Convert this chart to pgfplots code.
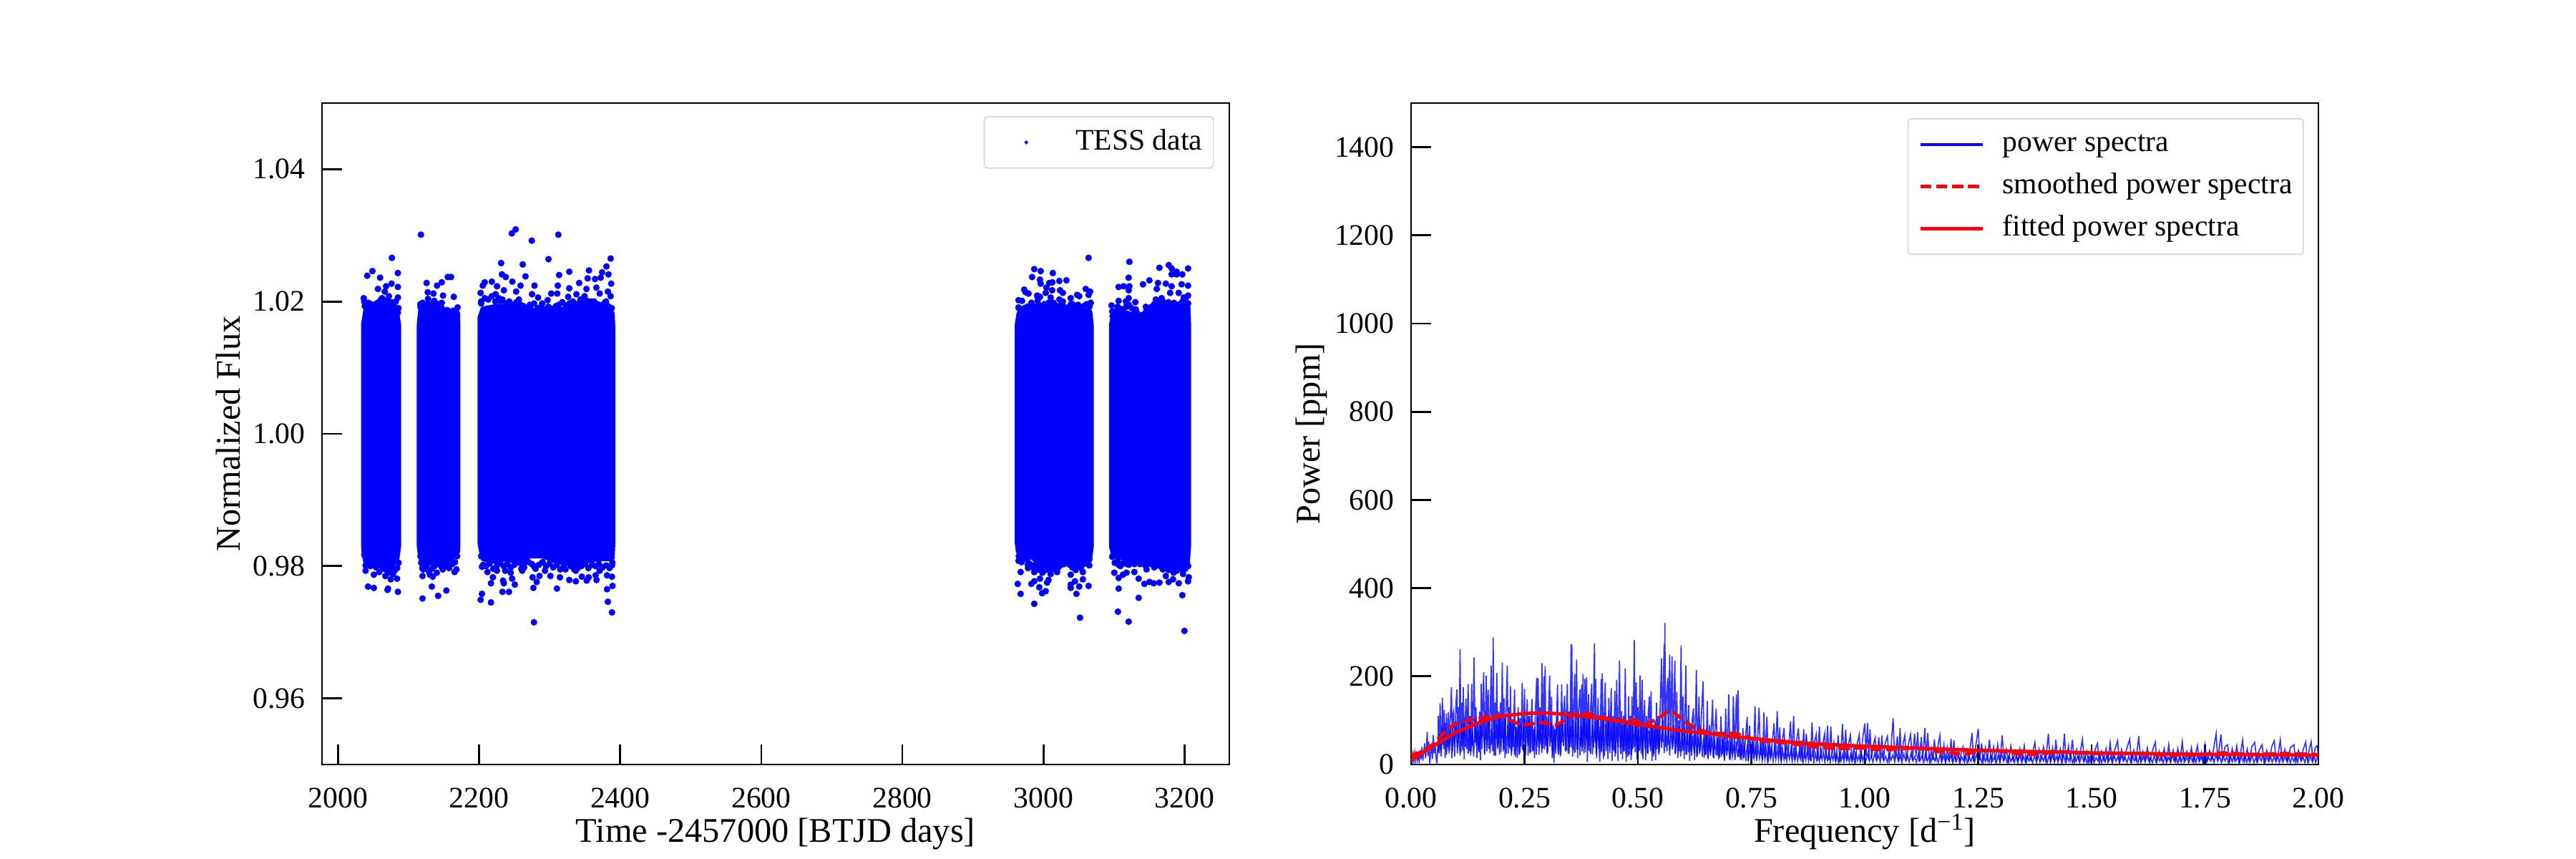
\documentclass[border=0pt]{standalone}
\usepackage{fontspec}
\setmainfont{Liberation Serif}
\usepackage{pgfplots}
\pgfplotsset{compat=1.18}

\pgfplotsset{
  panel/.style={
    scale only axis,
    width=6.34in,
    height=4.62in,
    tick align=inside,
    xtick pos=lower,
    ytick pos=left,
    minor tick num=0,
    major tick length=10bp,
    tick style={black, line width=1bp},
    axis line style={line width=0.5bp},
    tick label style={font=\fontsize{15bp}{18bp}\selectfont, /pgf/number format/assume math mode=true},
    xticklabel style={yshift=-8.3bp},
    yticklabel style={xshift=-5bp},
    label style={font=\fontsize{17.4bp}{20bp}\selectfont},
    legend cell align=left,
    legend style={
      font=\fontsize{15bp}{18bp}\selectfont,
      draw=black!17, rounded corners=1.5bp, line width=0.6bp,
      fill=white, fill opacity=0.8, text opacity=1,
      inner xsep=5.5bp, inner ysep=6bp,
      column sep=9.2bp, row sep=7.5bp,
      nodes={inner sep=0pt, text height=10.5bp, text depth=3.2bp},
    },
    legend image code/.code={\draw[##1] (0bp,0bp) -- (31.3bp,0bp);},
  },
}

\begin{document}
\begin{tikzpicture}
\useasboundingbox (-2.25in,-0.66in) rectangle (15.75in,5.34in);

\begin{axis}[panel,
  xmin=1977.4, xmax=3263.4, ymin=0.95, ymax=1.05,
  xtick={2000,2200,...,3200},
  ytick={0.96,0.98,1.00,1.02,1.04},
  x tick label style={/pgf/number format/1000 sep={}},
  y tick label style={/pgf/number format/fixed, /pgf/number format/fixed zerofill, /pgf/number format/precision=2},
  xlabel={Time -2457000 [BTJD days]},
  ylabel={Normalized Flux},
  xlabel style={at={(axis description cs:0.5,-0.1175)}, anchor=base},
  ylabel style={at={(axis description cs:-0.090,0.5)}, anchor=base},
  legend style={at={(0.983,0.98)}, anchor=north east},
  legend image code/.code={\path[draw=none, fill=none] (0bp,0bp) -- (31.3bp,0bp); \draw[#1, draw=none] plot coordinates {(15.65bp,0bp)};},
]
\addlegendimage{only marks, mark=*, mark size=0.6bp, blue, mark options={draw=none, fill=blue}}
\addlegendentry{TESS data}

% the solid part of each block, far too many points to plot one by one
\addplot[blue, fill=blue, line width=3bp, line join=round, forget plot] coordinates {
  (2037,1.0165)(2040,1.0186)(2050,1.0189)(2060,1.0192)(2070,1.0194)(2082,1.0187)(2085.3,1.0165)
  (2085.3,0.9830)(2083,0.9812)(2074,0.9798)(2068,0.9805)(2058,0.9809)(2048,0.9803)(2039,0.9812)(2037,0.9830)
} --cycle;
\addplot[blue, fill=blue, line width=3bp, line join=round, forget plot] coordinates {
  (2116,1.0165)(2118,1.0187)(2130,1.0192)(2142,1.0190)(2155,1.0182)(2169,1.0182)(2169.3,1.0160)
  (2169.3,0.9835)(2169,0.9822)(2160,0.9812)(2150,0.9808)(2142,0.9816)(2130,0.9805)(2118,0.9812)(2116,0.9830)
} --cycle;
\addplot[blue, fill=blue, line width=3bp, line join=round, forget plot] coordinates {
  (2202,1.0175)(2206,1.0188)(2225,1.0192)(2245,1.0192)(2262,1.0189)(2280,1.0185)(2300,1.0184)(2320,1.0188)(2340,1.0193)(2360,1.0194)(2380,1.0192)(2388,1.0182)(2389,1.0160)
  (2389,0.9835)(2388,0.9812)(2370,0.9812)(2350,0.9808)(2335,0.9803)(2310,0.9808)(2290,0.9816)(2270,0.9816)(2262,0.9803)(2240,0.9812)(2220,0.9808)(2206,0.9812)(2202,0.9835)
} --cycle;
\addplot[blue, fill=blue, line width=3bp, line join=round, forget plot] coordinates {
  (2963.5,1.0165)(2966,1.0182)(2985,1.0184)(3005,1.0188)(3025,1.0189)(3045,1.0187)(3065,1.0184)(3067,1.0165)
  (3067,0.9830)(3065,0.9812)(3050,0.9803)(3035,0.9809)(3020,0.9798)(3005,0.9800)(2990,0.9809)(2975,0.9822)(2965,0.9822)(2963.5,0.9835)
} --cycle;
\addplot[blue, fill=blue, line width=3bp, line join=round, forget plot] coordinates {
  (3097,1.0165)(3100,1.0180)(3112,1.0184)(3128,1.0178)(3140,1.0174)(3155,1.0187)(3170,1.0192)(3190,1.0194)(3204,1.0192)(3205,1.0165)
  (3205,0.9830)(3203,0.9803)(3190,0.9798)(3175,0.9800)(3160,0.9803)(3145,0.9808)(3130,0.9805)(3115,0.9812)(3100,0.9818)(3097,0.9830)
} --cycle;

% points that stand clear of the blocks
\addplot[only marks, mark=*, mark size=1.45bp, blue, mark options={draw=none}, forget plot] coordinates {
  (2076.5,1.0266)(2048.9,1.0246)(2041.5,1.0239)(2059.8,1.0236)(2085,1.0243)(2085,1.0222)(2076,1.0227)(2068.3,1.0223)(2056.7,1.0219)
  (2066.4,1.0215)(2085,1.0206)(2036.5,1.0205)(2037.3,1.0200)(2062.5,1.0205)(2072.2,1.0208)(2043.1,1.0198)(2054.7,1.0197)(2085.8,1.0190)
  (2117.6,1.0301)(2125.7,1.0228)(2147.1,1.0229)(2155.6,1.0237)(2160.3,1.0237)(2140.5,1.0224)(2127.3,1.0214)(2135.4,1.0212)(2149,1.0209)
  (2164.2,1.0207)(2127.7,1.0204)(2136.6,1.0201)(2116.8,1.0196)(2147.1,1.0198)(2169.6,1.0191)(2149.8,1.0187)(2139.3,1.0186)
  (2251.9,1.0309)(2246.4,1.0303)(2312.4,1.0301)(2274.7,1.0292)(2298.4,1.0264)(2386.5,1.0265)(2231.3,1.0258)(2261.9,1.0256)(2380.6,1.0253)
  (2355.8,1.0247)(2327.9,1.0245)(2374.4,1.0244)(2232.4,1.0241)(2237.9,1.0237)(2265.8,1.0238)(2313.5,1.0240)(2383.4,1.0241)(2353.9,1.0235)
  (2364.4,1.0234)(2372.5,1.0236)(2247.2,1.0230)(2208,1.0229)(2218.1,1.0230)(2205.3,1.0224)(2387.3,1.0227)(2341.9,1.0228)(2258.8,1.0224)
  (2278.6,1.0224)(2311.6,1.0224)(2225.5,1.0223)(2327.9,1.0220)(2352.3,1.0219)(2366.3,1.0221)(2235.2,1.0217)(2252.6,1.0215)(2202.2,1.0213)
  (2223.5,1.0211)(2302.3,1.0212)(2310.8,1.0212)(2275.1,1.0211)(2338,1.0211)(2371,1.0212)(2382.6,1.0215)(2283.7,1.0206)(2349.6,1.0208)
  (2297.2,1.0202)(2326.3,1.0207)(2386.5,1.0208)(2256.5,1.0203)(2230.1,1.0201)(2203,1.0197)(2272,1.0195)(2241,1.0198)(2379.9,1.0200)
  (2308.9,1.0193)(2343.8,1.0203)(2289.5,1.0197)(2359.3,1.0200)
  (3063.9,1.0266)(2986.9,1.0249)(2996,1.0246)(3013.2,1.0243)(2983.8,1.0237)(2995,1.0233)(2996,1.0227)(3008.2,1.0228)(3012.6,1.0229)
  (3022.4,1.0231)(3032.5,1.0232)(3004.1,1.0221)(2972.7,1.0218)(3012.2,1.0217)(2974.7,1.0214)(2978.8,1.0212)(3023.4,1.0217)(3027.4,1.0213)
  (3059.9,1.0219)(3066,1.0215)(3063.9,1.0210)(2990.9,1.0209)(2995,1.0207)(3003.1,1.0213)(3010.2,1.0206)(2964.6,1.0202)(2969.6,1.0201)
  (2982.8,1.0198)(3022.4,1.0203)(3027.4,1.0200)(3038.6,1.0205)(3047.7,1.0210)(3050.7,1.0208)(3067,1.0198)(2964.6,1.0191)(2974.7,1.0190)
  (2991.6,1.0201)(3007.1,1.0198)(3047.7,1.0194)(3038.9,1.0196)(3014.2,1.0198)
  (3121.7,1.0260)(3177.5,1.0255)(3181.6,1.0250)(3164.3,1.0251)(3204.9,1.0250)(3188.7,1.0245)(3181.6,1.0241)(3188.7,1.0241)(3196.8,1.0241)
  (3120.7,1.0236)(3150.1,1.0232)(3141,1.0226)(3162.3,1.0228)(3195.8,1.0226)(3204.9,1.0224)(3106.5,1.0222)(3113.6,1.0223)(3121.7,1.0223)
  (3120.7,1.0217)(3160.6,1.0219)(3173.4,1.0227)(3181.6,1.0223)(3179.5,1.0213)(3191.7,1.0213)(3204.9,1.0209)(3198.8,1.0206)(3120.7,1.0205)
  (3106.5,1.0201)(3130.2,1.0199)(3159.2,1.0203)(3167.4,1.0205)(3096.4,1.0194)(3097.4,1.0185)(3145.1,1.0192)(3130.9,1.0188)(3157.2,1.0194)(3116.7,1.0200)
  (2042.7,0.9769)(2050.9,0.9767)(2071,0.9766)(2070.3,0.9764)(2085,0.9761)(2039.2,0.9793)(2050.9,0.9787)(2058.6,0.9791)(2067.2,0.9785)
  (2074.9,0.9780)(2083.8,0.9781)(2037.3,0.9817)(2039.2,0.9801)
  (2119.9,0.9751)(2142,0.9755)(2153.7,0.9763)(2133.1,0.9769)(2119.9,0.9785)(2134.3,0.9784)(2130.4,0.9787)(2140.1,0.9790)(2165.3,0.9791)
  (2168,0.9795)(2148.6,0.9795)(2157.6,0.9797)(2119.5,0.9797)
  (2277.8,0.9715)(2388.4,0.9730)(2382.6,0.9746)(2216.9,0.9745)(2202.2,0.9749)(2204.1,0.9758)(2233.2,0.9761)(2242.5,0.9761)(2277,0.9767)
  (2310.4,0.9766)(2381.4,0.9765)(2389.2,0.9770)(2216.9,0.9774)(2235.2,0.9774)(2250.7,0.9772)(2234,0.9778)(2281.7,0.9776)(2327.9,0.9779)
  (2337.2,0.9777)(2352.6,0.9778)(2366.5,0.9779)(2275.9,0.9783)(2285.6,0.9785)(2301.1,0.9785)(2314.7,0.9783)(2345.7,0.9784)(2355.4,0.9783)
  (2365.2,0.9786)(2381.4,0.9786)(2388.4,0.9784)(2219.6,0.9783)(2246.8,0.9781)(2225.4,0.9793)(2237.1,0.9793)(2244.9,0.9790)(2211.9,0.9791)
  (2261.2,0.9793)(2277.8,0.9800)(2293.4,0.9793)(2322.5,0.9795)(2337.2,0.9793)(2370.9,0.9793)(2388.4,0.9801)(2204.1,0.9799)
  (3051.8,0.9722)(2986.9,0.9743)(2967.6,0.9758)(2998,0.9759)(3003.1,0.9762)(3046.7,0.9758)(3038.6,0.9767)(2963.5,0.9773)(2982.8,0.9773)
  (2994,0.9768)(3050.7,0.9769)(3063.9,0.9770)(2986.9,0.9777)(3005.1,0.9775)(2995,0.9781)(3007.1,0.9779)(3038.6,0.9772)(3044.7,0.9777)
  (3055.8,0.9780)(2967.6,0.9791)(2986.9,0.9791)(2998.4,0.9790)(3038.6,0.9787)(2964.6,0.9808)(2971.7,0.9813)(2977.7,0.9802)(2978.1,0.9797)
  (3065,0.9801)(3055.8,0.9791)(3045.7,0.9794)(3019.3,0.9791)(3010.2,0.9788)
  (3199.8,0.9702)(3120.7,0.9716)(3105.5,0.9731)(3134.9,0.9752)(3196.8,0.9756)(3106.5,0.9766)(3143,0.9773)(3150.1,0.9776)(3156.2,0.9774)
  (3164.3,0.9775)(3177.5,0.9776)(3191.7,0.9774)(3204.9,0.9777)(3134.9,0.9781)(3106.5,0.9782)(3173.4,0.9785)(3183.6,0.9780)(3205.9,0.9783)
  (3100.4,0.9790)(3112.6,0.9787)(3117.7,0.9790)(3128.8,0.9791)(3146.1,0.9795)(3184.3,0.9790)(3197.8,0.9788)(3106.5,0.9802)(3097.4,0.9814)(3118.3,0.9803)
};
% points along the rough upper and lower edges of the blocks
\addplot[only marks, mark=*, mark size=1.45bp, blue, mark options={draw=none}, forget plot] coordinates {
  (2038,1.0193)(2041,1.0197)(2044,1.0192)(2047,1.0196)(2051,1.0194)(2055,1.0193)(2058,1.0199)(2061,1.0203)(2064,1.0197)(2067,1.0200)(2070,1.0202)(2073,1.0197)(2076,1.0199)(2079,1.0195)(2082,1.0200)(2085,1.0183)
  (2038,0.9822)(2040,0.9808)(2043,0.9803)(2046,0.9800)(2050,0.9803)(2054,0.9798)(2058,0.9803)(2062,0.9800)(2065,0.9796)(2069,0.9794)(2072,0.9790)(2075,0.9793)(2078,0.9788)(2081,0.9794)(2084,0.9797)(2086,0.9805)
  (2117,1.0192)(2120,1.0198)(2123,1.0194)(2127,1.0196)(2131,1.0192)(2135,1.0198)(2139,1.0193)(2143,1.0196)(2147,1.0190)(2151,1.0185)(2155,1.0187)(2159,1.0184)(2163,1.0186)(2167,1.0186)
  (2117,0.9815)(2118,0.9805)(2121,0.9795)(2125,0.9800)(2129,0.9792)(2133,0.9796)(2137,0.9800)(2141,0.9805)(2146,0.9800)(2150,0.9806)(2154,0.9800)(2158,0.9806)(2162,0.9803)(2166,0.9806)(2169,0.9815)
  (2203,1.0200)(2208,1.0205)(2213,1.0203)(2218,1.0208)(2223,1.0200)(2228,1.0205)(2233,1.0203)(2238,1.0197)(2243,1.0200)(2248,1.0195)(2253,1.0199)(2258,1.0196)(2263,1.0193)(2268,1.0190)(2273,1.0193)(2278,1.0197)(2283,1.0190)(2288,1.0192)(2293,1.0188)(2298,1.0192)(2303,1.0189)(2308,1.0188)(2313,1.0195)(2318,1.0199)(2323,1.0194)(2328,1.0197)(2333,1.0200)(2338,1.0196)(2343,1.0199)(2348,1.0197)(2353,1.0201)(2358,1.0197)(2363,1.0200)(2368,1.0196)(2373,1.0194)(2378,1.0198)(2383,1.0193)(2388,1.0190)
  (2203,0.9815)(2206,0.9802)(2210,0.9800)(2215,0.9804)(2220,0.9796)(2225,0.9800)(2230,0.9804)(2235,0.9800)(2240,0.9803)(2245,0.9798)(2250,0.9802)(2255,0.9806)(2260,0.9796)(2264,0.9798)(2270,0.9806)(2275,0.9803)(2280,0.9796)(2285,0.9802)(2290,0.9806)(2295,0.9800)(2300,0.9804)(2305,0.9798)(2310,0.9802)(2315,0.9795)(2320,0.9800)(2325,0.9806)(2330,0.9800)(2335,0.9795)(2340,0.9797)(2345,0.9800)(2350,0.9803)(2355,0.9797)(2360,0.9802)(2365,0.9800)(2370,0.9803)(2375,0.9798)(2380,0.9801)(2385,0.9797)(2389,0.9805)
  (2965,1.0190)(2969,1.0185)(2973,1.0190)(2977,1.0192)(2981,1.0188)(2985,1.0193)(2989,1.0190)(2993,1.0195)(2997,1.0190)(3001,1.0196)(3005,1.0193)(3009,1.0197)(3013,1.0190)(3017,1.0194)(3021,1.0191)(3025,1.0196)(3029,1.0192)(3033,1.0188)(3037,1.0192)(3041,1.0196)(3045,1.0191)(3049,1.0195)(3053,1.0190)(3057,1.0193)(3061,1.0196)(3065,1.0192)
  (2965,0.9815)(2969,0.9806)(2973,0.9815)(2977,0.9810)(2981,0.9803)(2985,0.9798)(2989,0.9803)(2993,0.9795)(2997,0.9799)(3001,0.9793)(3005,0.9797)(3009,0.9793)(3013,0.9800)(3017,0.9795)(3021,0.9798)(3025,0.9806)(3029,0.9803)(3033,0.9806)(3037,0.9802)(3041,0.9798)(3045,0.9803)(3049,0.9799)(3053,0.9797)(3057,0.9803)(3061,0.9806)(3065,0.9810)
  (3098,1.0178)(3101,1.0185)(3105,1.0192)(3109,1.0189)(3113,1.0186)(3117,1.0192)(3121,1.0195)(3125,1.0190)(3129,1.0186)(3133,1.0182)(3137,1.0178)(3141,1.0180)(3145,1.0184)(3149,1.0186)(3153,1.0192)(3157,1.0196)(3161,1.0194)(3165,1.0198)(3169,1.0200)(3173,1.0196)(3177,1.0199)(3181,1.0195)(3185,1.0198)(3189,1.0194)(3193,1.0196)(3197,1.0200)(3201,1.0203)(3205,1.0197)
  (3098,0.9815)(3101,0.9805)(3105,0.9808)(3109,0.9800)(3113,0.9804)(3117,0.9810)(3121,0.9802)(3125,0.9806)(3129,0.9803)(3133,0.9808)(3137,0.9803)(3141,0.9806)(3145,0.9800)(3149,0.9804)(3153,0.9803)(3157,0.9798)(3161,0.9803)(3165,0.9800)(3169,0.9795)(3173,0.9798)(3177,0.9794)(3181,0.9797)(3185,0.9795)(3189,0.9793)(3193,0.9797)(3197,0.9794)(3201,0.9796)(3205,0.9800)
};
\end{axis}

\begin{axis}[panel, at={(7.61in,0in)},
  xmin=0, xmax=2, ymin=0, ymax=1500,
  xtick={0,0.25,...,2},
  ytick={0,200,...,1400},
  x tick label style={/pgf/number format/fixed, /pgf/number format/fixed zerofill, /pgf/number format/precision=2},
  y tick label style={/pgf/number format/1000 sep={}},
  xlabel={Frequency [d\textsuperscript{−1}]},
  ylabel={Power [ppm]},
  xlabel style={at={(axis description cs:0.5,-0.1175)}, anchor=base},
  ylabel style={at={(axis description cs:-0.1007,0.5)}, anchor=base},
  legend style={at={(0.984,0.977)}, anchor=north east},
]
\addlegendimage{blue, line width=1.6bp}
\addlegendentry{power spectra}
\addlegendimage{red, line width=1.6bp, dash pattern=on 5.55bp off 2.4bp}
\addlegendentry{smoothed power spectra}
\addlegendimage{red, line width=1.6bp}
\addlegendentry{fitted power spectra}

% spikes
\addplot[blue, opacity=0.8, line width=0.6bp, forget plot] coordinates {
  (0.000,14)(0.002,5)(0.004,24)(0.006,6)(0.008,27)(0.010,8)(0.012,30)(0.014,10)(0.016,22)(0.018,6)(0.020,33)(0.022,12)(0.024,40)(0.026,9)(0.028,30)(0.030,48)
  (0.032,14)(0.034,40)(0.0355,74)(0.037,20)(0.039,52)(0.0405,10)(0.0415,2)(0.043,28)(0.045,46)(0.047,12)(0.049,67)(0.051,25)(0.053,50)(0.055,14)(0.057,3)
  (0.059,45)(0.060,110)(0.062,25)(0.064,139)(0.066,30)(0.068,90)(0.069,151)(0.071,45)(0.073,124)(0.075,15)(0.077,70)(0.078,116)(0.080,40)(0.0825,119)(0.084,25)
  (0.086,90)(0.089,175)(0.091,30)(0.092,110)(0.094,121)(0.096,18)(0.098,100)(0.099,140)(0.101,170)(0.103,40)(0.105,130)(0.106,60)(0.108,261)(0.110,28)(0.112,140)
  (0.114,45)(0.115,175)(0.117,12)(0.119,95)(0.121,150)(0.123,35)(0.1257,182)(0.128,30)(0.130,110)(0.1315,20)(0.1335,183)(0.135,42)(0.137,120)(0.1388,243)(0.141,50)
  (0.143,130)(0.145,15)(0.147,75)(0.149,30)(0.151,120)(0.153,10)(0.1546,183)(0.156,60)(0.158,140)(0.160,209)(0.162,25)(0.164,115)(0.1656,202)(0.167,30)(0.169,150)
  (0.170,170)(0.172,35)(0.174,110)(0.1767,224)(0.178,45)(0.180,130)(0.181,288)(0.183,20)(0.185,140)(0.187,60)(0.189,208)(0.191,35)(0.193,120)(0.195,22)(0.197,140)
  (0.199,60)(0.201,231)(0.203,30)(0.205,150)(0.207,15)(0.209,110)(0.212,224)(0.214,25)(0.216,130)(0.218,35)(0.219,178)(0.221,20)(0.223,100)(0.225,40)(0.228,170)
  (0.230,18)(0.232,85)(0.234,15)(0.236,130)(0.238,22)(0.240,105)(0.242,40)(0.245,185)(0.247,30)(0.249,120)
  (0.250,171)(0.252,30)(0.254,90)(0.256,148)(0.258,20)(0.260,110)(0.262,25)(0.264,95)(0.2665,148)(0.268,30)(0.270,80)(0.272,14)(0.274,120)(0.277,196)(0.278,40)
  (0.280,196)(0.282,22)(0.284,130)(0.286,45)(0.2886,230)(0.290,35)(0.293,200)(0.2945,60)(0.2955,223)(0.297,42)(0.299,110)(0.301,26)(0.303,120)(0.3055,202)(0.307,50)
  (0.3097,154)(0.311,15)(0.313,90)(0.315,4)(0.317,80)(0.319,25)(0.321,110)(0.3228,181)(0.325,22)(0.327,95)(0.329,18)(0.332,181)(0.334,50)(0.336,120)(0.3386,156)
  (0.340,30)(0.342,100)(0.3444,183)(0.346,25)(0.348,120)(0.350,40)(0.3528,272)(0.3535,60)(0.3543,273)(0.356,18)(0.358,120)(0.3607,205)(0.362,28)(0.3649,238)(0.367,15)
  (0.369,120)(0.3722,170)(0.374,40)(0.376,181)(0.377,30)(0.3791,205)(0.381,25)(0.3833,194)(0.385,60)(0.387,198)(0.3885,6)(0.3912,159)(0.393,30)(0.395,110)(0.398,183)
  (0.400,22)(0.402,140)(0.4043,275)(0.4055,50)(0.4069,194)(0.409,15)(0.4122,151)(0.414,45)(0.416,6)(0.419,194)(0.420,30)(0.4216,207)(0.424,12)(0.426,120)(0.428,186)
  (0.430,30)(0.432,100)(0.434,12)(0.4358,151)(0.438,40)(0.4411,173)(0.443,8)(0.445,110)(0.447,30)(0.449,167)(0.451,25)(0.4532,192)(0.456,8)(0.4595,236)(0.4615,35)
  (0.4637,121)(0.466,12)(0.468,110)(0.470,30)(0.4721,218)(0.474,6)(0.476,100)(0.478,18)(0.4795,154)(0.481,22)(0.483,110)(0.485,10)(0.4868,154)(0.489,35)(0.4921,282)
  (0.494,28)(0.4963,186)(0.498,12)(0.500,130)(0.502,30)
  (0.5047,202)(0.507,25)(0.5095,192)(0.511,12)(0.513,100)(0.5147,146)(0.517,10)(0.519,110)(0.521,25)(0.523,120)(0.5253,154)(0.527,40)(0.529,166)(0.531,8)(0.533,90)
  (0.535,25)(0.537,100)(0.539,10)(0.541,140)(0.543,35)(0.545,110)(0.547,28)(0.549,130)(0.552,240)(0.554,50)(0.556,183)(0.5579,274)(0.5587,80)(0.5594,321)(0.561,40)
  (0.563,150)(0.5657,197)(0.567,45)(0.570,249)(0.572,60)(0.5752,245)(0.577,40)(0.579,130)(0.5815,236)(0.583,25)(0.5857,165)(0.588,15)(0.590,100)(0.592,30)(0.5952,270)
  (0.597,30)(0.5994,154)(0.602,12)(0.6057,224)(0.608,22)(0.610,90)(0.612,135)(0.614,8)(0.616,90)(0.618,30)(0.620,105)(0.6225,127)(0.625,10)(0.627,110)(0.6288,214)
  (0.631,20)(0.633,90)(0.6346,154)(0.637,30)(0.640,110)(0.6436,188)(0.646,15)(0.648,70)(0.650,22)(0.653,144)(0.655,12)(0.658,90)(0.660,30)(0.6646,147)(0.667,14)
  (0.670,85)(0.6725,127)(0.675,20)(0.678,70)(0.680,16)(0.683,109)(0.686,24)(0.689,75)(0.691,8)(0.6935,127)(0.696,30)(0.698,60)(0.7003,159)(0.703,10)(0.706,70)
  (0.708,22)(0.7103,155)(0.713,30)(0.715,90)(0.7172,159)(0.719,40)(0.7208,168)(0.723,18)(0.726,60)(0.728,10)(0.7314,83)(0.734,15)(0.737,60)(0.7408,108)(0.743,8)
  (0.746,88)(0.749,20)(0.752,60)(0.755,12)
  (0.758,132)(0.761,15)(0.764,60)(0.767,129)(0.770,22)(0.773,60)(0.775,10)(0.7776,118)(0.780,18)(0.7844,108)(0.787,5)(0.790,55)(0.793,15)(0.796,50)(0.800,93)
  (0.803,14)(0.807,121)(0.810,24)(0.8128,84)(0.815,8)(0.818,50)(0.8222,83)(0.825,12)(0.828,55)(0.831,20)(0.8364,98)(0.839,18)(0.8433,110)(0.846,10)(0.849,48)
  (0.8538,82)(0.857,16)(0.860,55)(0.862,6)(0.8654,80)(0.868,14)(0.871,70)(0.875,20)(0.878,50)(0.880,8)(0.8838,95)(0.887,18)(0.890,55)(0.8932,69)(0.896,8)
  (0.900,86)(0.903,14)(0.907,45)(0.9116,70)(0.914,12)(0.918,88)(0.921,10)(0.9253,86)(0.928,22)(0.932,50)(0.936,6)(0.9416,66)(0.945,4)(0.948,40)(0.951,92)
  (0.954,12)(0.958,79)(0.961,8)(0.964,45)(0.9684,67)(0.972,5)(0.976,40)(0.980,12)(0.984,50)(0.9879,68)(0.991,6)(0.995,55)(1.000,93)(1.003,20)(1.006,94)
  (1.009,10)(1.0115,80)(1.015,15)(1.019,45)(1.023,61)
  (1.026,8)(1.031,62)(1.034,14)(1.0378,66)(1.041,10)(1.045,48)(1.05,64)(1.054,8)(1.058,40)(1.0625,105)(1.066,14)(1.072,64)(1.075,6)(1.0778,83)(1.081,12)
  (1.085,50)(1.0883,66)(1.092,8)(1.096,45)(1.101,68)(1.105,10)(1.1098,70)(1.113,18)(1.1167,73)(1.120,6)(1.1246,62)(1.128,12)(1.1325,83)(1.135,8)(1.1388,71)
  (1.143,5)(1.147,35)(1.150,10)(1.1535,57)(1.157,14)(1.161,40)(1.1656,66)(1.169,7)(1.1745,45)(1.178,5)(1.182,38)(1.186,10)(1.1903,58)(1.193,6)(1.1966,55)
  (1.200,12)(1.205,35)(1.209,4)(1.213,30)(1.2166,40)(1.220,6)(1.225,32)(1.229,10)(1.2365,71)(1.240,6)(1.245,45)(1.2502,81)(1.2535,10)(1.2576,48)(1.261,6)
  (1.266,38)(1.27,12)(1.275,56)(1.279,5)(1.284,40)(1.288,10)(1.293,45)(1.298,6)(1.303,66)(1.307,12)(1.312,35)(1.317,5)(1.322,42)(1.327,10)(1.332,30)
  (1.337,4)(1.342,36)(1.347,12)(1.3516,43)(1.356,4)(1.361,28)(1.366,10)(1.375,50)(1.379,6)(1.384,35)(1.389,12)(1.394,40)(1.399,8)(1.4047,70)(1.409,6)
  (1.414,38)(1.418,12)(1.4213,56)(1.426,5)(1.431,35)(1.436,10)(1.44,70)(1.444,6)(1.449,42)(1.453,12)(1.4578,56)(1.462,4)(1.467,34)(1.472,10)(1.4798,57)
  (1.484,8)(1.489,30)(1.494,3)(1.499,25)(1.504,8)(1.508,35)(1.513,48)(1.517,4)(1.522,30)(1.527,10)(1.532,36)(1.536,5)(1.541,50)(1.545,8)(1.55,30)
  (1.5574,54)(1.561,6)(1.566,34)(1.571,10)(1.578,38)(1.584,57)(1.588,5)(1.593,32)(1.598,10)(1.604,64)(1.608,6)(1.613,30)(1.618,12)(1.623,38)(1.628,4)
  (1.633,28)(1.6405,51)(1.644,6)(1.649,30)(1.654,10)(1.66,36)(1.665,4)(1.67,45)(1.674,8)(1.68,32)(1.685,5)(1.69,36)(1.695,10)(1.70,52)(1.704,6)
  (1.71,30)(1.715,10)(1.72,38)(1.725,4)(1.7334,43)(1.737,8)(1.742,28)(1.746,5)(1.75,44)(1.754,8)(1.76,32)(1.765,12)(1.7746,70)(1.778,10)(1.7852,68)
  (1.789,12)(1.794,40)(1.8,45)(1.804,6)(1.81,36)(1.815,10)(1.82,42)(1.825,5)(1.833,55)(1.837,8)(1.843,35)(1.848,6)(1.853,40)(1.8596,50)(1.864,8)
  (1.87,34)(1.876,45)(1.88,5)(1.886,32)(1.892,10)(1.897,40)(1.9027,54)(1.907,8)(1.912,30)(1.916,56)(1.92,10)(1.926,34)(1.932,6)(1.938,38)(1.946,45)
  (1.95,5)(1.956,32)(1.962,10)(1.967,36)(1.972,51)(1.976,8)(1.98,35)(1.984,52)(1.988,8)(1.993,38)(1.9977,43)(2.0,14)
};
% the fine structure under the spikes, where the trace is nearly solid
\addplot[blue, opacity=0.8, line width=0.6bp, forget plot] coordinates {
  (0.060,28)(0.063,70)(0.066,18)(0.069,85)(0.072,35)(0.075,95)(0.078,22)(0.081,60)(0.084,30)(0.087,88)(0.090,15)(0.093,75)(0.096,40)(0.099,100)(0.102,25)(0.105,80)(0.108,20)(0.111,92)(0.114,32)(0.117,105)
  (0.120,40)(0.123,85)(0.126,24)(0.129,98)(0.132,30)(0.135,75)(0.138,18)(0.141,102)(0.144,42)(0.147,95)(0.150,28)(0.153,88)(0.156,35)(0.159,108)(0.162,22)(0.165,90)(0.168,38)(0.171,110)(0.174,26)(0.177,82)
  (0.180,30)(0.183,100)(0.186,20)(0.189,92)(0.192,42)(0.195,112)(0.198,28)(0.201,96)(0.204,35)(0.207,105)(0.210,24)(0.213,90)(0.216,40)(0.219,115)(0.222,30)(0.225,95)(0.228,22)(0.231,86)(0.234,38)(0.237,108)
  (0.240,26)(0.243,92)(0.246,34)(0.249,104)(0.252,20)(0.255,88)(0.258,42)(0.261,110)(0.264,28)(0.267,96)(0.270,32)(0.273,86)(0.276,22)(0.279,106)(0.282,38)(0.285,98)(0.288,26)(0.291,112)(0.294,34)(0.297,90)
  (0.300,24)(0.303,104)(0.306,40)(0.309,94)(0.312,20)(0.315,84)(0.318,36)(0.321,108)(0.324,28)(0.327,96)(0.330,22)(0.333,102)(0.336,42)(0.339,92)(0.342,30)(0.345,110)(0.348,24)(0.351,88)(0.354,38)(0.357,100)
  (0.360,26)(0.363,96)(0.366,34)(0.369,106)(0.372,20)(0.375,86)(0.378,40)(0.381,112)(0.384,28)(0.387,94)(0.390,32)(0.393,104)(0.396,24)(0.399,90)(0.402,38)(0.405,98)(0.408,22)(0.411,108)(0.414,36)(0.417,86)
  (0.420,28)(0.423,100)(0.426,20)(0.429,92)(0.432,42)(0.435,104)(0.438,26)(0.441,84)(0.444,34)(0.447,96)(0.450,18)(0.453,88)(0.456,38)(0.459,106)(0.462,24)(0.465,90)(0.468,30)(0.471,100)(0.474,22)(0.477,82)
  (0.480,36)(0.483,94)(0.486,20)(0.489,86)(0.492,40)(0.495,102)(0.498,26)(0.501,80)(0.504,32)(0.507,92)(0.510,20)(0.513,84)(0.516,36)(0.519,96)(0.522,24)(0.525,76)(0.528,30)(0.531,88)(0.534,18)(0.537,80)
  (0.540,34)(0.543,92)(0.546,22)(0.549,84)(0.552,38)(0.555,100)(0.558,26)(0.561,88)(0.564,30)(0.567,94)(0.570,20)(0.573,80)(0.576,34)(0.579,90)(0.582,24)(0.585,76)(0.588,28)(0.591,86)(0.594,18)(0.597,72)
  (0.600,32)(0.603,82)(0.606,22)(0.609,70)(0.612,28)(0.615,78)(0.618,20)(0.621,66)(0.624,26)(0.627,74)(0.630,16)(0.633,64)(0.636,24)(0.639,72)(0.642,18)(0.645,60)(0.648,22)(0.651,68)(0.654,14)(0.657,58)
  (0.660,20)(0.663,64)(0.666,16)(0.669,56)(0.672,22)(0.675,60)(0.678,12)(0.681,54)(0.684,18)(0.687,58)(0.690,14)(0.693,50)(0.696,20)(0.699,54)
  (0.702,12)(0.705,50)(0.708,18)(0.711,46)(0.714,10)(0.717,52)(0.720,16)(0.723,44)(0.726,12)(0.729,48)(0.732,18)(0.735,42)(0.738,8)(0.741,46)(0.744,14)(0.747,40)(0.750,10)(0.753,44)(0.756,16)(0.759,38)
  (0.762,8)(0.765,42)(0.768,14)(0.771,36)(0.774,10)(0.777,40)(0.780,12)(0.783,34)(0.786,6)(0.789,38)(0.792,14)(0.795,36)(0.798,8)(0.801,40)(0.804,12)(0.807,34)(0.810,10)(0.813,38)(0.816,6)(0.819,32)
  (0.822,12)(0.825,36)(0.828,8)(0.831,30)(0.834,12)(0.837,34)(0.840,6)(0.843,30)(0.846,10)(0.849,32)(0.852,8)(0.855,28)(0.858,12)(0.861,32)(0.864,6)(0.867,28)(0.870,10)(0.873,30)(0.876,8)(0.879,26)
  (0.882,12)(0.885,30)(0.888,5)(0.891,26)(0.894,10)(0.897,28)(0.900,7)(0.903,25)(0.906,11)(0.909,28)(0.912,6)(0.915,24)(0.918,9)(0.921,27)(0.924,5)(0.927,23)(0.930,10)(0.933,26)(0.936,7)(0.939,22)
  (0.942,4)(0.945,25)(0.948,9)(0.951,23)(0.954,6)(0.957,26)(0.960,10)(0.963,22)(0.966,5)(0.969,24)(0.972,8)(0.975,21)(0.978,4)(0.981,23)(0.984,9)(0.987,20)(0.990,6)(0.993,24)(0.996,8)(0.999,22)
  (1.002,6)(1.006,24)(1.010,8)(1.014,20)(1.018,5)(1.022,26)(1.026,9)(1.030,21)(1.034,6)(1.038,25)(1.042,8)(1.046,19)(1.050,5)(1.054,24)(1.058,10)(1.062,22)(1.066,6)(1.070,26)(1.074,8)(1.078,20)
  (1.082,4)(1.086,24)(1.090,9)(1.094,21)(1.098,6)(1.102,25)(1.106,8)(1.110,18)(1.114,5)(1.118,23)(1.122,9)(1.126,20)(1.130,4)(1.134,24)(1.138,8)(1.142,19)(1.146,6)(1.150,22)(1.154,9)(1.158,18)
  (1.162,4)(1.166,23)(1.170,7)(1.174,20)(1.178,5)(1.182,18)(1.186,8)(1.190,22)(1.194,4)(1.198,19)(1.202,7)(1.206,21)(1.210,5)(1.214,17)(1.218,8)(1.222,22)(1.226,4)(1.230,18)(1.234,7)(1.238,20)
  (1.242,5)(1.246,23)(1.250,8)(1.254,17)(1.258,4)(1.262,21)(1.266,7)(1.270,19)(1.274,5)(1.278,22)(1.282,8)(1.286,17)(1.290,4)(1.294,20)(1.298,6)(1.302,23)(1.306,8)(1.310,18)(1.314,4)(1.318,21)
  (1.322,7)(1.326,17)(1.330,5)(1.334,20)(1.338,8)(1.342,22)(1.346,4)(1.350,18)(1.354,6)(1.358,21)(1.362,8)(1.366,16)(1.370,4)(1.374,20)(1.378,7)(1.382,23)(1.386,5)(1.390,18)(1.394,8)(1.398,21)
  (1.402,4)(1.406,19)(1.410,7)(1.414,22)(1.418,5)(1.422,17)(1.426,8)(1.430,20)(1.434,4)(1.438,23)(1.442,6)(1.446,18)(1.450,8)(1.454,21)(1.458,4)(1.462,16)(1.466,7)(1.470,20)(1.474,5)(1.478,22)
  (1.482,8)(1.486,17)(1.490,3)(1.494,19)(1.498,7)(1.502,21)(1.506,5)(1.510,16)(1.514,8)(1.518,20)(1.522,4)(1.526,18)(1.530,6)(1.534,22)(1.538,8)(1.542,17)(1.546,4)(1.550,20)(1.554,7)(1.558,18)
  (1.562,5)(1.566,21)(1.570,8)(1.574,16)(1.578,4)(1.582,19)(1.586,6)(1.590,22)(1.594,8)(1.598,17)(1.602,3)(1.606,20)(1.610,7)(1.614,18)(1.618,5)(1.622,21)(1.626,8)(1.630,16)(1.634,4)(1.638,19)
  (1.642,6)(1.646,21)(1.650,8)(1.654,17)(1.658,4)(1.662,20)(1.666,7)(1.670,16)(1.674,5)(1.678,22)(1.682,8)(1.686,18)(1.690,3)(1.694,19)(1.698,6)(1.702,21)(1.706,8)(1.710,16)(1.714,4)(1.718,20)
  (1.722,7)(1.726,17)(1.730,5)(1.734,22)(1.738,8)(1.742,18)(1.746,3)(1.750,20)(1.754,6)(1.758,16)(1.762,8)(1.766,21)(1.770,4)(1.774,24)(1.778,7)(1.782,19)(1.786,5)(1.790,22)(1.794,8)(1.798,17)
  (1.802,4)(1.806,20)(1.810,6)(1.814,23)(1.818,8)(1.822,17)(1.826,3)(1.830,20)(1.834,7)(1.838,22)(1.842,5)(1.846,18)(1.850,8)(1.854,21)(1.858,4)(1.862,16)(1.866,6)(1.870,20)(1.874,8)(1.878,23)
  (1.882,3)(1.886,18)(1.890,7)(1.894,21)(1.898,5)(1.902,17)(1.906,8)(1.910,20)(1.914,4)(1.918,22)(1.922,6)(1.926,18)(1.930,8)(1.934,21)(1.938,3)(1.942,17)(1.946,7)(1.950,20)(1.954,5)(1.958,23)
  (1.962,8)(1.966,17)(1.970,4)(1.974,21)(1.978,6)(1.982,19)(1.986,8)(1.990,22)(1.994,4)(1.998,18)
};

\addplot[red, line width=1.7bp, dash pattern=on 5.55bp off 2.4bp, forget plot] coordinates {
  (0,22)(0.0205,27)(0.0415,40)(0.057,55)(0.073,72)(0.089,86)(0.1046,94)(0.1257,100)(0.1467,104)(0.173,110)(0.199,111)(0.2203,100)(0.2413,90)(0.2492,90)
  (0.27,92.5)(0.286,96)(0.3018,92.5)(0.3175,89)(0.336,98)(0.349,108)(0.365,115)(0.391,116)(0.4175,108)(0.4595,100)(0.486,102)(0.5016,98)(0.517,90)(0.536,100)
  (0.549,108)(0.5657,120)(0.5805,117)(0.596,104)(0.607,95)(0.625,83)(0.6383,78)(0.659,71)(0.6856,70)(0.712,71)(0.7277,67)(0.754,58)(0.775,54)(0.817,50)
  (0.854,45)(0.888,40)(0.922,37)(0.959,36)(0.99,38)(1.027,34)(1.061,34)(1.095,37)(1.132,36)(1.164,29)(1.2,25)(1.23,25)(1.253,32)(1.289,32)(1.342,24)
  (1.368,23)(1.44,29)(1.5,25)(1.6,25)(1.654,21)(1.733,22)(1.79,26.5)(1.853,23)(1.92,25)(1.992,23)(2,21)
};
\addplot[red, line width=1.7bp, forget plot] coordinates {
  (0,10)(0.0415,37)(0.094,70)(0.1467,94)(0.199,110)(0.252,116)(0.302,117)(0.354,112)(0.407,106)(0.46,98)(0.5016,90)(0.554,83)(0.607,75)(0.659,70)(0.712,63)
  (0.7645,58)(0.859,49)(0.964,43)(1.069,39)(1.175,35)(1.253,32)(1.5,26.5)(1.75,23)(2,21)
};
\end{axis}
\end{tikzpicture}
\end{document}
